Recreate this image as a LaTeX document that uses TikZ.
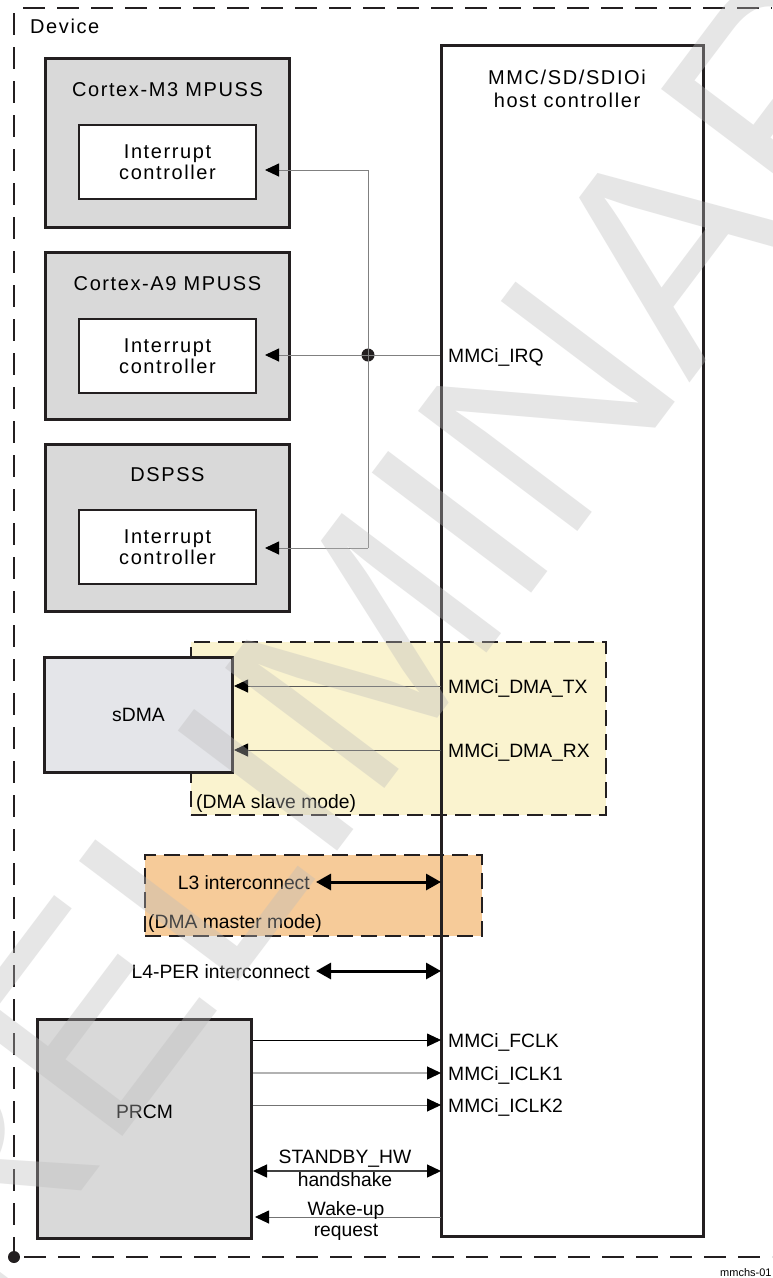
\documentclass[tikz,border=0pt]{standalone}
\usepackage{fontspec}
\setmainfont{Liberation Sans}
\newfontfamily\upfont[LetterSpace=8]{Liberation Sans}
\usetikzlibrary{arrows.meta}
\definecolor{bordc}{RGB}{35,31,32}
\definecolor{boxgray}{RGB}{217,217,217}
\definecolor{dmagray}{RGB}{228,229,233}
\definecolor{slaveyel}{RGB}{250,243,207}
\definecolor{masterorg}{RGB}{246,203,153}
\definecolor{wiregray}{RGB}{128,128,128}
\definecolor{wmgray}{RGB}{188,188,188}
\newcommand\myupfont{\upfont\fontsize{20}{21}\selectfont}
\newcommand\mylofont{\fontsize{19.3}{23}\selectfont}
\begin{document}
\begin{tikzpicture}[x=1pt,y=-1pt,
  outerbox/.style={draw=bordc, line width=3pt, fill=boxgray, inner sep=0pt},
  innerbox/.style={draw=bordc, line width=2pt, fill=white, inner sep=0pt, align=center, font=\myupfont},
  region/.style={draw=bordc, line width=2.2pt, dash pattern=on 16pt off 8pt, inner sep=0pt},
  devdash/.style={draw=bordc, line width=2pt, dash pattern=on 22pt off 12pt},
  lbl/.style={font=\mylofont, inner sep=0pt},
  ttl/.style={font=\myupfont, inner sep=0pt},
  wire/.style={draw=wiregray, line width=0.9pt},
  sarr/.style={-{Triangle[length=14pt,width=13pt,color=black]}},
  darr/.style={{Triangle[length=15pt,width=16pt]}-{Triangle[length=15pt,width=16pt]}, line width=3pt, draw=black},
  dotnode/.style={circle, fill=bordc, minimum size=13pt, inner sep=0pt}
]
\useasboundingbox (0,0) rectangle (772,1278);
\fill[white] (0,0) rectangle (772,1278);
\clip (0,0) rectangle (772,1278);

% regions
\node[region, fill=slaveyel, minimum width=415pt, minimum height=173pt] (slave) at (398.5,728.5) {};
\node[region, fill=masterorg, minimum width=337pt, minimum height=81pt] (master) at (313.5,895.5) {};

% host controller
\node[draw=bordc, line width=3pt, minimum width=262pt, minimum height=1191pt, inner sep=0pt] (host) at (572,640.5) {};
\node[font=\upfont\fontsize{20}{23}\selectfont, align=center, inner sep=0pt] (htitle) at (567,89) {MMC/SD/SDIOi\\host controller};

% processor subsystems
\node[outerbox, minimum width=244pt, minimum height=169pt] (m3) at (167.5,143) {};
\node[ttl, anchor=base] (m3t) at (167.5,96) {Cortex-M3 MPUSS};
\node[innerbox, minimum width=177pt, minimum height=74pt] (m3ic) at (167.5,162) {Interrupt\\controller};

\node[outerbox, minimum width=244pt, minimum height=167pt] (a9) at (167.5,336) {};
\node[ttl, anchor=base] (a9t) at (167.5,290) {Cortex-A9 MPUSS};
\node[innerbox, minimum width=177pt, minimum height=74pt] (a9ic) at (167.5,356) {Interrupt\\controller};

\node[outerbox, minimum width=244pt, minimum height=167pt] (dsp) at (167.5,528) {};
\node[ttl, anchor=base] (dspt) at (167.5,481) {DSPSS};
\node[innerbox, minimum width=177pt, minimum height=74pt] (dspic) at (167.5,547) {Interrupt\\controller};

% sDMA and PRCM
\node[draw=bordc, line width=3pt, fill=dmagray, minimum width=188pt, minimum height=115pt, inner sep=0pt, font=\mylofont] (sdma) at (138.5,715) {sDMA};
\node[outerbox, minimum width=214pt, minimum height=219pt] (prcm) at (144.5,1129) {};
\node[lbl] (prcmt) at (144.5,1112) {PRCM};

% IRQ wiring
\coordinate (jt) at (368,170);
\coordinate (jb) at (368,548);
\node[dotnode] (jdot) at (368,355) {};
\coordinate (t1) at (265,170);
\coordinate (t2) at (265,355);
\coordinate (t3) at (265,548);
\draw[wire] (jt) -- (jb);
\draw[wire,sarr] (jt) -- (t1);
\draw[wire,sarr] (jdot.center) -- (t2);
\draw[wire,sarr] (jb) -- (t3);
\draw[wire] (host.west |- jdot) -- (jdot.center);
\node[lbl, anchor=base west] (lirq) at (448,362) {MMCi\_IRQ};

% DMA requests
\coordinate (htx) at (441,686);
\coordinate (hrx) at (441,750);
\draw[draw=black!65, line width=0.9pt, sarr] (htx) -- (sdma.east |- htx);
\draw[draw=black!70, line width=0.9pt, sarr] (hrx) -- (sdma.east |- hrx);
\node[lbl, anchor=base west] (ltx) at (448,693) {MMCi\_DMA\_TX};
\node[lbl, anchor=base west] (lrx) at (448,757) {MMCi\_DMA\_RX};
\node[lbl, anchor=base west] (lslave) at (196,808) {(DMA slave mode)};

% interconnects
\coordinate (hl3) at (441,882);
\coordinate (l3tip) at (316,882);
\node[lbl, anchor=base east] (l3) at (310,889) {L3 interconnect};
\draw[darr] (l3tip) -- (hl3);
\node[lbl, anchor=base west] (lmaster) at (148,928) {(DMA master mode)};
\coordinate (hl4) at (441,971);
\coordinate (l4tip) at (316,971);
\node[lbl, anchor=base east] (l4) at (310,978) {L4-PER interconnect};
\draw[darr] (l4tip) -- (hl4);

% clocks
\coordinate (hf) at (441,1040);
\coordinate (hi1) at (441,1073);
\coordinate (hi2) at (441,1105);
\draw[draw=black, line width=0.9pt, sarr] (prcm.east |- hf) -- (hf);
\draw[draw=black!30, line width=1.4pt, sarr] (prcm.east |- hi1) -- (hi1);
\draw[draw=black!55, line width=0.9pt, sarr] (prcm.east |- hi2) -- (hi2);
\node[lbl, anchor=base west] (lf) at (448,1047) {MMCi\_FCLK};
\node[lbl, anchor=base west] (li1) at (448,1080) {MMCi\_ICLK1};
\node[lbl, anchor=base west] (li2) at (448,1112) {MMCi\_ICLK2};

% standby / wake-up
\coordinate (hs) at (441,1171);
\coordinate (hw) at (441,1217);
\coordinate (wtip) at (255,1217);
\draw[draw=black!75, line width=1.4pt, {Triangle[length=14pt,width=13pt,color=black]}-{Triangle[length=14pt,width=13pt,color=black]}] (prcm.east |- hs) -- (hs);
\draw[draw=black!55, line width=0.9pt, sarr] (hw) -- (wtip);
\node[font=\fontsize{19.3}{23}\selectfont, align=center, inner sep=0pt] (lsb) at (345,1168.6) {STANDBY\_HW\\handshake};
\node[font=\fontsize{19.3}{21}\selectfont, align=center, inner sep=0pt] (lwk) at (346,1220.6) {Wake-up\\request};

% device border
\coordinate (dtl) at (14,13);
\coordinate (dbl) at (14,1257);
\coordinate (dtt) at (23,8);
\coordinate (dtr) at (772,8);
\coordinate (dbr) at (772,1257);
\draw[devdash] (dtl) -- (dbl);
\draw[devdash] (dtt) -- (dtr);
\draw[devdash, dash phase=-10pt] (dbl) -- (dbr);
\node[dotnode, minimum size=12pt] (ddot) at (dbl) {};
\node[ttl, anchor=base west] (ldev) at (30,33) {Device};
\node[font=\fontsize{11}{13}\selectfont, anchor=base west, inner sep=0pt] (fig) at (720,1276) {mmchs-01};

% watermark
\node[rotate=53, font=\fontsize{290}{290}\selectfont, text=wmgray, text opacity=0.37, inner sep=0pt] (wm) at (376,634) {PRELIMINARY};
\end{tikzpicture}
\end{document}
